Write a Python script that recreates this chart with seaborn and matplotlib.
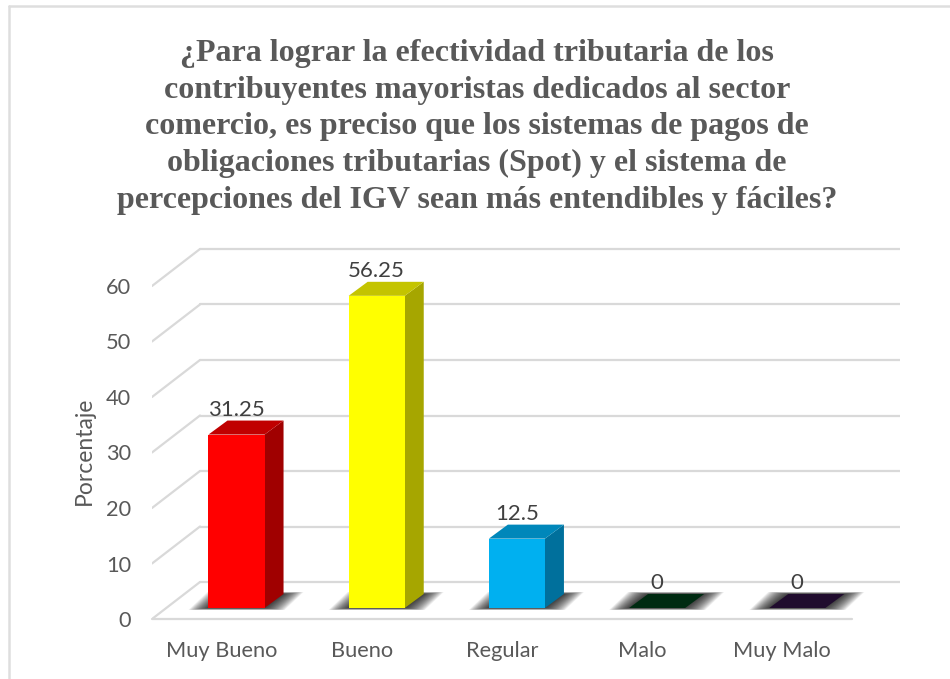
import matplotlib
matplotlib.use('Agg')
import matplotlib.pyplot as plt
import pandas as pd
import seaborn as sns

# Values
categories = ['Muy Bueno', 'Bueno', 'Regular', 'Malo', 'Muy Malo']
percentages = [31.25, 56.25, 12.5, 0, 0]
value_labels = ['31.25', '56.25', '12.5', '0', '0']
y_ticks = [0, 10, 20, 30, 40, 50, 60]

front_colors = ['#ff0000', '#ffff00', '#00b0f0', '#003018', '#200c2e']
top_colors = ['#c00000', '#c4c400', '#0087ba', '#002b12', '#200c2e']
side_colors = ['#a00000', '#a6a600', '#00709c', '#002b12', '#200c2e']

title = ('¿Para lograr la efectividad tributaria de los\n'
         'contribuyentes mayoristas dedicados al sector\n'
         'comercio, es preciso que los sistemas de pagos de\n'
         'obligaciones tributarias (Spot) y el sistema de\n'
         'percepciones del IGV sean más entendibles y fáciles?')

# px per data unit, used to fake the 3D look
PX_X = 140.2
PX_Y = 5.55
BAR_W = 0.4
DEPTH_X = 19 / PX_X
DEPTH_Y = 14 / PX_Y
FLOOR_FRONT = -11 / PX_Y
FLOOR_BACK = 26 / PX_Y
WALL_X = 48 / PX_X
LABEL_SHIFT = 15 / PX_X
GRID = '#d9d9d9'

sns.set_theme(style='white')
plt.rcParams['font.family'] = ['Lato', 'DejaVu Sans']

df = pd.DataFrame({'cat': categories, 'pct': percentages})

fig = plt.figure(figsize=(9.5, 6.79), dpi=100)
ax = fig.add_axes([152 / 950, 1 - 619 / 679, 748 / 950, 379 / 679])

sns.barplot(data=df, x='cat', y='pct', hue='cat', palette=front_colors,
            width=BAR_W, legend=False, saturation=1, ax=ax, zorder=4,
            edgecolor='none', linewidth=0)

x_left = -0.5 - 14.4 / PX_X
x_right = x_left + 748 / PX_X
ax.set_xlim(x_left, x_right)
ax.set_ylim(FLOOR_FRONT, FLOOR_FRONT + 379 / PX_Y)

# back wall grid and the slanted lines down the side wall
for t in y_ticks:
    ax.plot([x_left + WALL_X, x_right], [t + FLOOR_BACK] * 2, color=GRID, lw=1.6, zorder=1)
    ax.plot([x_left, x_left + WALL_X], [t + FLOOR_FRONT, t + FLOOR_BACK], color=GRID, lw=1.6, zorder=1)
ax.plot([x_left, x_right - WALL_X], [FLOOR_FRONT] * 2, color=GRID, lw=1.6, zorder=1, clip_on=False)

for i, v in enumerate(percentages):
    x0 = i - BAR_W / 2
    x1 = i + BAR_W / 2

    # soft shadow on the floor, built from stacked polygons
    for g in range(20, -1, -1):
        gx = g / PX_X
        gy = 0.1 * g / PX_Y
        ax.fill([x0 - gx, x1 + gx, x1 + DEPTH_X + gx, x0 + DEPTH_X - gx],
                [-gy, -gy, DEPTH_Y + gy, DEPTH_Y + gy],
                color='black', alpha=0.06, lw=0, zorder=2)

    # side and top faces
    ax.fill([x1, x1 + DEPTH_X, x1 + DEPTH_X, x1], [0, DEPTH_Y, v + DEPTH_Y, v],
            color=side_colors[i], lw=0, zorder=3)
    ax.fill([x0, x1, x1 + DEPTH_X, x0 + DEPTH_X], [v, v, v + DEPTH_Y, v + DEPTH_Y],
            color=top_colors[i], lw=0, zorder=5)

    ax.text(i, v + DEPTH_Y + 0.1, value_labels[i], ha='center', va='bottom',
            fontsize=16, color='#404040', zorder=6)

ax.set_yticks([t + FLOOR_FRONT for t in y_ticks], labels=y_ticks)
ax.set_xticks([i - LABEL_SHIFT for i in range(len(categories))], labels=categories)
ax.tick_params(axis='both', length=0, labelsize=15.7, labelcolor='#595959')
ax.tick_params(axis='y', pad=15)
ax.tick_params(axis='x', pad=16)
for lab in ax.get_yticklabels():
    lab.set_verticalalignment('center_baseline')
ax.set_xlabel('')
ax.set_ylabel('Porcentaje', fontsize=16.5, color='#595959', labelpad=8, y=0.443)
sns.despine(ax=ax, left=True, bottom=True)

fig.text(477 / 950, 1 - 127 / 679, title, ha='center', va='center', fontsize=23,
         fontweight='bold', family='Liberation Serif', color='#595959', linespacing=1.34)

# frame of the pasted picture, only top and left show
fig.add_artist(plt.Line2D([9 / 950, 950 / 950], [1 - 6 / 679] * 2, color='#dedede', lw=1.8))
fig.add_artist(plt.Line2D([9 / 950] * 2, [1 - 6 / 679, 0], color='#dedede', lw=1.8))

fig.savefig('out.png', dpi=100)
